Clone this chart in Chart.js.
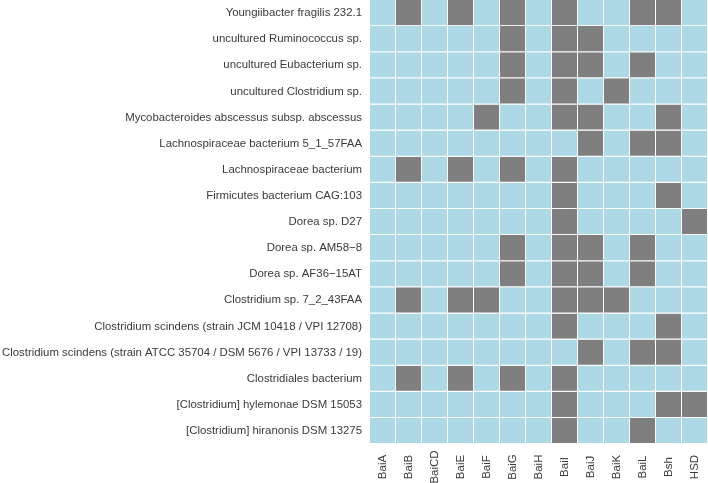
<!DOCTYPE html>
<html>
<head>
<meta charset="utf-8">
<script src="https://cdn.jsdelivr.net/npm/chart.js@4.4.1/dist/chart.umd.min.js"></script>
<style>
  body { margin: 0; background: #fff; }
  #wrap { width: 708px; height: 483px; }
</style>
</head>
<body>
<div id="wrap"><canvas id="heat"></canvas></div>
<script>
const genes = ["BaiA", "BaiB", "BaiCD", "BaiE", "BaiF", "BaiG", "BaiH", "BaiI", "BaiJ", "BaiK", "BaiL", "Bsh", "HSD"];

const species = [
  "Youngiibacter fragilis 232.1",
  "uncultured Ruminococcus sp.",
  "uncultured Eubacterium sp.",
  "uncultured Clostridium sp.",
  "Mycobacteroides abscessus subsp. abscessus",
  "Lachnospiraceae bacterium 5_1_57FAA",
  "Lachnospiraceae bacterium",
  "Firmicutes bacterium CAG:103",
  "Dorea sp. D27",
  "Dorea sp. AM58\u22128",
  "Dorea sp. AF36\u221215AT",
  "Clostridium sp. 7_2_43FAA",
  "Clostridium scindens (strain JCM 10418 / VPI 12708)",
  "Clostridium scindens (strain ATCC 35704 / DSM 5676 / VPI 13733 / 19)",
  "Clostridiales bacterium",
  "[Clostridium] hylemonae DSM 15053",
  "[Clostridium] hiranonis DSM 13275"
];

// 1 = gene present, one row per species, columns follow genes
const presence = [
  [0,1,0,1,0,1,0,1,0,0,1,1,0],
  [0,0,0,0,0,1,0,1,1,0,0,0,0],
  [0,0,0,0,0,1,0,1,1,0,1,0,0],
  [0,0,0,0,0,1,0,1,0,1,0,0,0],
  [0,0,0,0,1,0,0,1,1,0,0,1,0],
  [0,0,0,0,0,0,0,0,1,0,1,1,0],
  [0,1,0,1,0,1,0,1,0,0,0,0,0],
  [0,0,0,0,0,0,0,1,0,0,0,1,0],
  [0,0,0,0,0,0,0,1,0,0,0,0,1],
  [0,0,0,0,0,1,0,1,1,0,1,0,0],
  [0,0,0,0,0,1,0,1,1,0,1,0,0],
  [0,1,0,1,1,0,0,1,1,1,0,0,0],
  [0,0,0,0,0,0,0,1,0,0,0,1,0],
  [0,0,0,0,0,0,0,0,1,0,1,1,0],
  [0,1,0,1,0,1,0,1,0,0,0,0,0],
  [0,0,0,0,0,0,0,1,0,0,0,1,1],
  [0,0,0,0,0,0,0,1,0,0,1,0,0]
];

const present = "#7f7f7f";
const absent = "#add8e6";
const textColor = "#3a3a3a";
const fontFamily = "'Liberation Sans', Arial, Helvetica, sans-serif";
const rowFont = { family: fontFamily, size: 11.4 };
const colFontSize = 11.5;

const datasets = species.map((name, i) => ({
  label: name,
  data: genes.map(() => 1),
  backgroundColor: presence[i].map(v => (v ? present : absent)),
  borderColor: "#ffffff",
  borderWidth: { top: 0, left: 0, right: 1, bottom: 1 },
  borderSkipped: false,
  inflateAmount: 0,
  categoryPercentage: 1,
  barPercentage: 1,
  stack: "all"
}));

// gene names: rotated 90deg and centred under each column (ggplot style)
const geneLabels = {
  id: "geneLabels",
  afterDraw(chart) {
    const ctx = chart.ctx;
    const xs = chart.scales.x;
    ctx.save();
    ctx.fillStyle = textColor;
    ctx.font = colFontSize + "px " + fontFamily;
    ctx.textAlign = "center";
    ctx.textBaseline = "middle";
    genes.forEach((g, i) => {
      ctx.save();
      ctx.translate(xs.getPixelForValue(i), 467);
      ctx.rotate(-Math.PI / 2);
      ctx.fillText(g, 0, 0);
      ctx.restore();
    });
    ctx.restore();
  }
};

new Chart(document.getElementById("heat"), {
  type: "bar",
  data: { labels: genes, datasets: datasets },
  plugins: [geneLabels],
  options: {
    responsive: true,
    maintainAspectRatio: false,
    animation: false,
    layout: { padding: 0 },
    plugins: {
      legend: { display: false },
      tooltip: { enabled: false }
    },
    scales: {
      x: {
        stacked: true,
        grid: { display: false, drawTicks: false },
        border: { display: false },
        ticks: { display: false },
        afterFit: (scale) => {
          scale.height = 39;
          scale.paddingLeft = 0;
          scale.paddingRight = 0;
        }
      },
      y: {
        stacked: true,
        reverse: true,
        min: 0,
        max: species.length,
        grid: { display: false, drawTicks: false },
        border: { display: false },
        afterBuildTicks: (scale) => {
          scale.ticks = species.map((_, i) => ({ value: i + 0.5 }));
        },
        ticks: {
          autoSkip: false,
          padding: 8,
          color: textColor,
          font: rowFont,
          callback: (value) => species[Math.round(value - 0.5)]
        },
        afterFit: (scale) => {
          scale.width = 370;
          scale.paddingTop = 0;
          scale.paddingBottom = 0;
        }
      }
    }
  }
});
</script>
</body>
</html>
